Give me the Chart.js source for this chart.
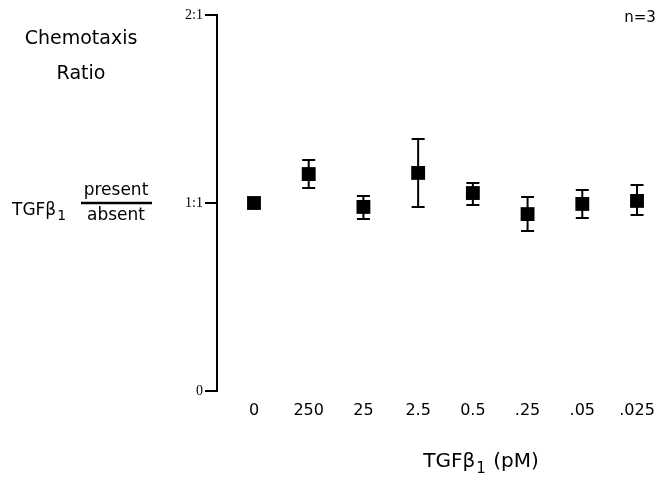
<!DOCTYPE html>
<html>
<head>
<meta charset="utf-8">
<script src="https://cdn.jsdelivr.net/npm/chart.js@4/dist/chart.umd.min.js"></script>
<style>
  html, body { margin: 0; padding: 0; background: #fff; }
  #wrap { width: 670px; height: 480px; position: relative; }
</style>
</head>
<body>
<div id="wrap"><canvas id="c" width="670" height="480"></canvas></div>
<script>
// ---- data ----
const categories = ['0', '250', '25', '2.5', '0.5', '.25', '.05', '.025'];
const ratioMean  = [1.00, 1.154, 0.979, 1.160, 1.053, 0.941, 0.995, 1.011];
const errUpper   = [1.00, 1.229, 1.037, 1.340, 1.106, 1.032, 1.069, 1.096];
const errLower   = [1.00, 1.080, 0.915, 0.979, 0.989, 0.851, 0.920, 0.936];
const yTickValues = [0, 1, 2];
const yTickLabels = ['0', '1:1', '2:1'];

const points = ratioMean.map((v, i) => ({ x: i, y: v }));

const errorBars = {
  id: 'errorBars',
  beforeDatasetsDraw(chart) {
    const ctx = chart.ctx;
    const xs = chart.scales.x, ys = chart.scales.y;
    ctx.save();
    ctx.strokeStyle = '#000';
    ctx.lineWidth = 2;
    for (let i = 0; i < categories.length; i++) {
      if (errUpper[i] === errLower[i]) continue;
      const px = xs.getPixelForValue(i);
      const top = ys.getPixelForValue(errUpper[i]);
      const bot = ys.getPixelForValue(errLower[i]);
      ctx.beginPath();
      ctx.moveTo(px, top); ctx.lineTo(px, bot);
      ctx.moveTo(px - 6.5, top); ctx.lineTo(px + 6.5, top);
      ctx.moveTo(px - 6.5, bot); ctx.lineTo(px + 6.5, bot);
      ctx.stroke();
    }
    ctx.restore();
  }
};

const annotations = {
  id: 'annotations',
  afterDraw(chart) {
    const ctx = chart.ctx;
    ctx.save();
    ctx.fillStyle = '#000';
    ctx.strokeStyle = '#000';
    ctx.textBaseline = 'middle';
    ctx.textAlign = 'center';
    ctx.font = '19px "DejaVu Sans"';
    ctx.fillText('Chemotaxis', 81, 39);
    ctx.fillText('Ratio', 81, 74);
    ctx.font = '15px "DejaVu Sans"';
    ctx.fillText('n=3', 640, 18);
    // TGFb1 present/absent
    ctx.textAlign = 'left';
    ctx.font = '17px "DejaVu Sans"';
    ctx.textBaseline = 'alphabetic';
    ctx.fillText('TGFβ', 12, 215);
    const w = ctx.measureText('TGFβ').width;
    ctx.font = '14px "DejaVu Sans"';
    ctx.fillText('1', 12 + w + 1, 220);
    ctx.textAlign = 'center';
    ctx.font = '17px "DejaVu Sans"';
    ctx.textBaseline = 'middle';
    ctx.fillText('present', 116, 191);
    ctx.fillText('absent', 116, 216);
    ctx.lineWidth = 2.5;
    ctx.beginPath();
    ctx.moveTo(81, 203); ctx.lineTo(152, 203);
    ctx.stroke();
    // x-axis title
    ctx.textAlign = 'left';
    ctx.textBaseline = 'alphabetic';
    const t1 = 'TGFβ';
    const t2 = '1';
    const t3 = ' (pM)';
    ctx.font = '20px "DejaVu Sans"';
    const w1 = ctx.measureText(t1).width;
    const w3 = ctx.measureText(t3).width;
    ctx.font = '15px "DejaVu Sans"';
    const w2 = ctx.measureText(t2).width;
    const total = w1 + w2 + 2 + w3;
    let x0 = 481 - total / 2;
    ctx.font = '20px "DejaVu Sans"';
    ctx.fillText(t1, x0, 467);
    ctx.font = '15px "DejaVu Sans"';
    ctx.fillText(t2, x0 + w1 + 1, 473);
    ctx.font = '20px "DejaVu Sans"';
    ctx.fillText(t3, x0 + w1 + w2 + 2, 467);
    ctx.restore();
  }
};

new Chart(document.getElementById('c'), {
  type: 'scatter',
  data: {
    datasets: [{
      data: points,
      pointStyle: 'rect',
      pointRadius: 9.8,
      pointHoverRadius: 9.8,
      backgroundColor: '#000',
      borderColor: '#000',
      borderWidth: 0,
      showLine: false
    }]
  },
  options: {
    responsive: false,
    animation: false,
    events: [],
    layout: { padding: { top: 15, right: 25, bottom: 0, left: 0 } },
    plugins: { legend: { display: false }, tooltip: { enabled: false } },
    scales: {
      x: {
        type: 'linear',
        min: -0.676,
        max: 7.146,
        afterBuildTicks(scale) { scale.ticks = categories.map((c, i) => ({ value: i })); },
        afterFit(scale) { scale.height = 89; },
        grid: { display: false, drawTicks: false },
        border: { display: false },
        ticks: {
          autoSkip: false,
          maxRotation: 0,
          padding: 10,
          color: '#000',
          font: { family: 'DejaVu Sans', size: 16 },
          callback: (v) => categories[v] !== undefined ? categories[v] : ''
        }
      },
      y: {
        min: 0,
        max: 2,
        afterBuildTicks(scale) { scale.ticks = yTickValues.map(v => ({ value: v })); },
        afterFit(scale) { scale.width = 217; },
        grid: { display: true, drawOnChartArea: false, drawTicks: true, tickLength: 12, color: '#000', lineWidth: 2 },
        border: { display: true, color: '#000', width: 2 },
        ticks: {
          padding: 2,
          color: '#000',
          font: { family: 'Liberation Serif', size: 14 },
          callback: (v) => yTickLabels[yTickValues.indexOf(v)] || ''
        }
      }
    }
  },
  plugins: [errorBars, annotations]
});
</script>
</body>
</html>
